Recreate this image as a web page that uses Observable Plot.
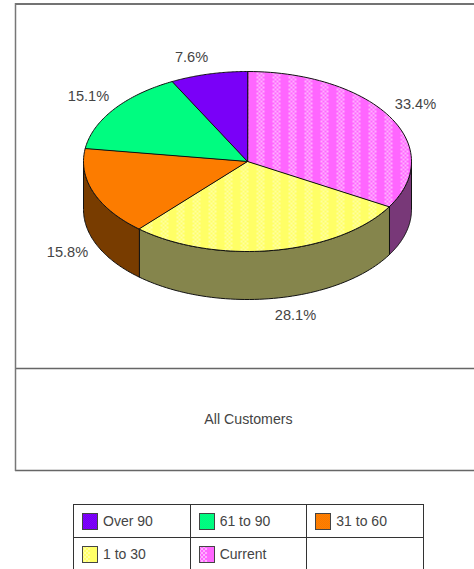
<!DOCTYPE html>
<html><head><meta charset="utf-8">
<script src="https://cdn.jsdelivr.net/npm/d3@7"></script>
<script src="https://cdn.jsdelivr.net/npm/@observablehq/plot@0.6"></script>
<style>
html,body{margin:0;padding:0;background:#fff;overflow:hidden;width:474px;height:569px}
#chart{position:absolute;left:0;top:0}
#legend{position:absolute;left:73px;top:504px;width:351px;border-collapse:collapse;table-layout:fixed;font:14px "Liberation Sans",Arial,sans-serif;color:#444}
#legend td{border:1px solid #333;height:33px;padding:0 0 0 8px;box-sizing:border-box}
#legend svg{vertical-align:middle;margin-right:5px}
#legend span{vertical-align:middle}
</style></head><body>
<div id="chart"></div>
<table id="legend"></table>
<script>
const categories = ["Current", "1 to 30", "31 to 60", "61 to 90", "Over 90"];
const shares = [33.4, 28.1, 15.8, 15.1, 7.6];
const labels = ["33.4%", "28.1%", "15.8%", "15.1%", "7.6%"];
const labelX = [415, 295, 67, 88, 191];
const labelY = [104, 315, 252, 96, 57];
const legendOrder = ["Over 90", "61 to 90", "31 to 60", "1 to 30", "Current"];
const topColors = {"Current":["#ff66ff","#ffb0ff",2],"1 to 30":["#ffff66","#ffffa0",2],"31 to 60":["#ff8000","#f87800",1],"61 to 90":["#00ff80","#00f880",1],"Over 90":["#8000ff","#7400f0",1]};
const sideColors = {"Current":["#803f80","#703070",1],"1 to 30":["#808040","#8a8a58",1],"31 to 60":["#804000","#703800",1]};

const W = 474, H = 490, cx = 247, cy = 161, rx = 164, ry = 90, depth = 48;
const px = a => cx + rx * Math.sin(a * Math.PI / 180);
const py = a => cy - ry * Math.cos(a * Math.PI / 180);
const arc = (a0, a1) => d3.range(0, 61).map(i => a0 + (a1 - a0) * i / 60);

const total = d3.sum(shares);
let acc = 0;
const slices = categories.map((c, i) => {
  const a0 = acc / total * 360; acc += shares[i];
  return {c, a0, a1: acc / total * 360};
});

const tops = slices.flatMap(s => [
  {c: s.c, x: cx, y: cy},
  ...arc(s.a0, s.a1).map(a => ({c: s.c, x: px(a), y: py(a)}))
]);
const sides = slices.filter(s => s.a0 < 270 && s.a1 > 90).flatMap(s => {
  const a0 = Math.max(s.a0, 90), a1 = Math.min(s.a1, 270), pts = arc(a0, a1);
  return [
    ...pts.map(a => ({c: s.c, x: px(a), y: py(a)})),
    ...pts.slice().reverse().map(a => ({c: s.c, x: px(a), y: py(a) + depth}))
  ];
});

const pid = (kind, c) => kind + c.replace(/\s/g, "");
const chart = Plot.plot({
  width: W, height: H, margin: 0,
  x: {domain: [0, W], range: [0, W], axis: null},
  y: {domain: [0, H], range: [0, H], axis: null},
  style: {background: "#fff", overflow: "hidden"},
  marks: [
    Plot.ruleY([3.5], {x1: 15, x2: 480, stroke: "#444", strokeWidth: 1.5}),
    Plot.ruleY([368, 470], {x1: 15, x2: 480, stroke: "#666", strokeWidth: 1.5}),
    Plot.ruleX([15], {y1: 3, y2: 471, stroke: "#777", strokeWidth: 1.5}),
    ...Object.keys(sideColors).map(c => Plot.line(sides.filter(d => d.c === c), {
      x: "x", y: "y", fill: `url(#${pid("s", c)})`, stroke: "#111", strokeWidth: 1, curve: "linear-closed"
    })),
    ...categories.map(c => Plot.line(tops.filter(d => d.c === c), {
      x: "x", y: "y", fill: `url(#${pid("t", c)})`, stroke: "#111", strokeWidth: 1, curve: "linear-closed"
    })),
    Plot.text(labels, {x: (d, i) => labelX[i], y: (d, i) => labelY[i], text: d => d,
      fontSize: 14.6, fontFamily: "Liberation Sans, Arial, sans-serif", fill: "#444"}),
    Plot.text(["All Customers"], {x: [248], y: [419], text: d => d,
      fontSize: 14.2, fontFamily: "Liberation Sans, Arial, sans-serif", fill: "#444"})
  ]
});

// dithered fill patterns: a pixel checker, coarser colours keep soft vertical bands
const patternMarkup = (id, [a, b, size]) => {
  let cells = "";
  for (let x = 0; x < 16; x += size) for (let y = 0; y < 16; y += size) {
    const odd = (x / size + y / size) % 2 === 0;
    if (odd && (size === 1 || x < 8)) cells += `<rect x="${x}" y="${y}" width="${size}" height="${size}" fill="${b}"/>`;
  }
  return `<pattern id="${id}" patternUnits="userSpaceOnUse" width="16" height="16"><rect width="16" height="16" fill="${a}"/>${cells}</pattern>`;
};
const defs = document.createElementNS("http://www.w3.org/2000/svg", "defs");
defs.innerHTML = Object.entries(topColors).map(([c, v]) => patternMarkup(pid("t", c), v)).join("")
  + Object.entries(sideColors).map(([c, v]) => patternMarkup(pid("s", c), v)).join("");
chart.prepend(defs);
document.getElementById("chart").append(chart);

// legend table
const table = document.getElementById("legend");
const rows = [legendOrder.slice(0, 3), legendOrder.slice(3).concat([""])];
table.innerHTML = rows.map(r => "<tr>" + r.map(c => c
  ? `<td><svg width="16" height="17"><defs>${patternMarkup("l" + pid("", c), topColors[c])}</defs><rect x=".5" y=".5" width="15" height="16" fill="url(#l${pid("", c)})" stroke="#444"/></svg><span>${c}</span></td>`
  : "<td></td>").join("") + "</tr>").join("");
</script>
</body></html>
